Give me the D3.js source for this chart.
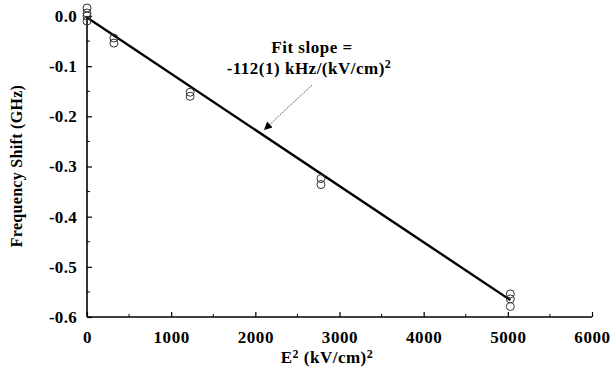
<!DOCTYPE html>
<html>
<head>
<meta charset="utf-8">
<script src="https://cdn.jsdelivr.net/npm/d3@7"></script>
<style>
  html, body { margin: 0; padding: 0; background: #fff; }
  svg { display: block; }
  text { font-family: "Liberation Serif", "Times New Roman", serif; font-weight: bold; fill: #000; }
</style>
</head>
<body>
<svg id="chart" width="613" height="373"></svg>
<script>
// Measured Stark shifts: field squared (kV/cm)^2 and frequency shift (GHz)
const fieldSq = [0, 0, 0, 0, 320, 320, 1225, 1225, 2780, 2780, 5030, 5030, 5030];
const shiftGHz = [0.016, 0.006, 0.000, -0.010, -0.044, -0.054, -0.152, -0.160, -0.324, -0.336, -0.554, -0.564, -0.579];

// Linear fit: slope in GHz per (kV/cm)^2, intercept in GHz
const fitSlope = -112e-6;
const fitIntercept = -0.003;
const fitRange = [0, 5030];

const xTicks = [0, 1000, 2000, 3000, 4000, 5000, 6000];
const yTicks = [0.0, -0.1, -0.2, -0.3, -0.4, -0.5, -0.6];
const xMinorTicks = [500, 1500, 2500, 3500, 4500, 5500];
const yMinorTicks = [-0.05, -0.15, -0.25, -0.35, -0.45, -0.55];

const svg = d3.select("#chart");
const x = d3.scaleLinear().domain([0, 6000]).range([87, 592]);
const y = d3.scaleLinear().domain([-0.6, 0]).range([317, 16]);

// Axes with inward ticks
const xAxis = svg.append("g").attr("transform", `translate(0,${y(-0.6)})`)
  .call(d3.axisBottom(x).tickValues(xTicks).tickSize(-5).tickPadding(14).tickFormat(d3.format("d")));
xAxis.select(".domain").attr("stroke-width", 1.6).attr("d", `M${x(0)},0H${x(6000)}`);
xAxis.selectAll(".tick line").attr("stroke-width", 1.2);
xAxis.selectAll("text").attr("font-size", 17).attr("letter-spacing", 0.6)
  .attr("font-family", "Liberation Serif").attr("font-weight", "bold");

svg.append("g").attr("transform", `translate(0,${y(-0.6)})`)
  .selectAll("line").data(xMinorTicks).join("line")
  .attr("x1", d => x(d)).attr("x2", d => x(d)).attr("y1", 0).attr("y2", -3)
  .attr("stroke", "#000").attr("stroke-width", 1);

const yAxis = svg.append("g").attr("transform", `translate(${x(0)},0)`)
  .call(d3.axisLeft(y).tickValues(yTicks).tickSize(-5).tickPadding(10).tickFormat(d3.format(".1f")));
yAxis.select(".domain").attr("stroke-width", 1.6).attr("d", `M0,${y(0)}V${y(-0.6)}`);
yAxis.selectAll(".tick line").attr("stroke-width", 1.2);
yAxis.selectAll("text").attr("font-size", 17).attr("letter-spacing", 0.3)
  .attr("font-family", "Liberation Serif").attr("font-weight", "bold")
  .text(d => d3.format(".1f")(d).replace("−", "-"));

svg.append("g").attr("transform", `translate(${x(0)},0)`)
  .selectAll("line").data(yMinorTicks).join("line")
  .attr("x1", 0).attr("x2", 3).attr("y1", d => y(d)).attr("y2", d => y(d))
  .attr("stroke", "#000").attr("stroke-width", 1);

// Fit line
svg.append("line")
  .attr("x1", x(fitRange[0])).attr("y1", y(fitIntercept + fitSlope * fitRange[0]))
  .attr("x2", x(fitRange[1])).attr("y2", y(fitIntercept + fitSlope * fitRange[1]))
  .attr("stroke", "#000").attr("stroke-width", 2.4);

// Data points (open circles)
svg.append("g").selectAll("circle").data(fieldSq.map((f, i) => [f, shiftGHz[i]])).join("circle")
  .attr("cx", d => x(d[0])).attr("cy", d => y(d[1])).attr("r", 4)
  .attr("fill", "none").attr("stroke", "#333").attr("stroke-width", 1);

// Annotation
svg.append("text").attr("x", 312).attr("y", 53).attr("text-anchor", "middle").attr("font-size", 17)
  .attr("letter-spacing", 0.5).text("Fit slope =");
const t2 = svg.append("text").attr("x", 309).attr("y", 74).attr("text-anchor", "middle").attr("font-size", 17)
  .attr("letter-spacing", 0.5);
t2.append("tspan").text("-112(1) kHz/(kV/cm)");
t2.append("tspan").attr("dy", -6).attr("font-size", 12).text("2");

svg.append("defs").append("marker").attr("id", "arrow")
  .attr("viewBox", "0 0 10 10").attr("refX", 10).attr("refY", 5)
  .attr("markerWidth", 13).attr("markerHeight", 8).attr("markerUnits", "userSpaceOnUse")
  .attr("orient", "auto")
  .append("path").attr("d", "M0,0L10,5L0,10z").attr("fill", "#000");
svg.append("line").attr("x1", 312).attr("y1", 85).attr("x2", 264).attr("y2", 130)
  .attr("stroke", "#444").attr("stroke-width", 0.8).attr("stroke-dasharray", "2,1")
  .attr("marker-end", "url(#arrow)");

// Axis titles
const xt = svg.append("text").attr("x", 327).attr("y", 363).attr("text-anchor", "middle").attr("font-size", 17)
  .attr("letter-spacing", 0.5);
xt.append("tspan").text("E");
xt.append("tspan").attr("dy", -5).attr("font-size", 12).text("2");
xt.append("tspan").attr("dy", 5).text(" (kV/cm)");
xt.append("tspan").attr("dy", -5).attr("font-size", 12).text("2");

svg.append("text").attr("transform", "translate(22,166) rotate(-90)")
  .attr("text-anchor", "middle").attr("font-size", 16).attr("letter-spacing", 0.3).text("Frequency Shift (GHz)");
</script>
</body>
</html>
